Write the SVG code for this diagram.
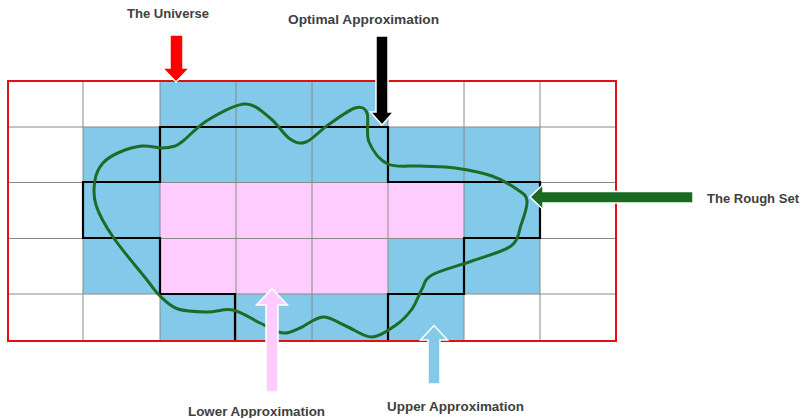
<svg xmlns="http://www.w3.org/2000/svg" width="800" height="418" viewBox="0 0 800 418">
<style>
.b{fill:#83C9EA}
.p{fill:#FFCCFF}
.g line{stroke:#8a8a8a;stroke-width:1}
.lbl{font-family:"Liberation Sans",Arial,sans-serif;font-weight:bold;font-size:13px;fill:#404040;text-anchor:middle}
.arr{stroke:#ffffff;stroke-width:1.5;stroke-linejoin:miter}
</style>
<rect width="800" height="418" fill="#ffffff"/>
<g id="cells">
<rect class="b" x="160" y="81" width="228" height="46"/>
<rect class="b" x="83" y="127" width="457" height="55"/>
<rect class="b" x="83" y="182" width="77" height="112"/>
<rect class="p" x="160" y="182" width="304" height="56"/>
<rect class="b" x="464" y="182" width="76" height="56"/>
<rect class="p" x="160" y="238" width="228" height="56"/>
<rect class="b" x="388" y="238" width="152" height="56"/>
<rect class="b" x="160" y="294" width="304" height="47"/>
</g>
<g id="grid" class="g">
<line x1="83" y1="81" x2="83" y2="341"/>
<line x1="160" y1="81" x2="160" y2="341"/>
<line x1="236" y1="81" x2="236" y2="341"/>
<line x1="312" y1="81" x2="312" y2="341"/>
<line x1="388" y1="81" x2="388" y2="341"/>
<line x1="464" y1="81" x2="464" y2="341"/>
<line x1="540" y1="81" x2="540" y2="341"/>
<line x1="8" y1="127" x2="616" y2="127"/>
<line x1="8" y1="182.5" x2="616" y2="182.5"/>
<line x1="8" y1="238.5" x2="616" y2="238.5"/>
<line x1="8" y1="294" x2="616" y2="294"/>
</g>
<g id="optimal-boundary">
<polygon points="160,127 388,127 388,182 540,182 540,238 464,238 464,294 388,294 388,341 235,341 235,294 160,294 160,238 83,238 83,182 160,182" fill="none" stroke="#000000" stroke-width="2.2" stroke-linejoin="miter"/>
</g>
<g id="universe">
<rect x="8" y="81" width="608" height="260" fill="none" stroke="#E01010" stroke-width="2"/>
</g>
<g id="rough-set">
<path d="M183,141 C188.5,136.7 197.7,126.2 208,120 S234.7,104.3 245,104 S262.5,112.2 270,118 S284,135 290,139 S299.7,144.3 306,142 S319.8,130.7 328,125 S348.5,110 355,108 S364.7,107.3 367,113 S365.5,133.5 369,142 S379.5,160 388,164 S408.8,165.3 420,166 S443,166.3 455,168 S481.5,172.3 492,176 S512.2,185.8 518,190 S526.5,195.2 527,201 S523.7,217.5 521,225 S519.2,240 511,246 S485.2,256.2 472,261 S440.3,270.3 432,275 S425.3,283.3 422,289 S416.3,303 412,309 S402.7,320.3 396,325 S380.3,336.8 372,337 S354.2,329.3 346,326 S330.7,316.7 323,317 S306.7,325.3 300,328 S289.7,333.8 283,333 S268.3,326.8 260,323 S241.8,311.8 233,310 S216.2,312.2 207,312 S185.8,311.7 178,309 S165.2,300.8 160,296 S154.8,289.8 147,280 S121.5,249.5 113,237 S99,214.5 96,205 S93.8,187 95,180 S98.8,167.7 103,163 S113.5,154.8 120,152 S135,146.7 142,146 S156.5,148 162,148 S171.5,147.2 175,146 S177.5,145.3 183,141 Z" fill="none" stroke="#1E6B28" stroke-width="3"/>
</g>
<g id="connectors">
<polygon class="arr" fill="#FF0000" points="170,35 183,35 183,68 189.5,68 176,82 162.5,68 170,68"/>
<polygon class="arr" fill="#000000" points="376,36 388,36 388,112 393.5,112 382,125 370.5,112 376,112"/>
<polygon class="arr" fill="#1B6A24" points="693,191.5 543,191.5 543,184.5 530,197 543,209.5 543,203 693,203"/>
<polygon class="arr" fill="#FFCCFF" points="266,392 278,392 278,305 287.5,305 272,288.5 256.5,305 266,305"/>
<polygon class="arr" fill="#83C9EA" points="428,384 440,384 440,340 447.5,340 434,325.5 420.5,340 428,340"/>
</g>
<g id="label-universe"><text class="lbl" x="168" y="18" textLength="82" lengthAdjust="spacingAndGlyphs">The Universe</text></g>
<g id="label-optimal"><text class="lbl" x="363.5" y="24" textLength="151" lengthAdjust="spacingAndGlyphs">Optimal Approximation</text></g>
<g id="label-rough"><text class="lbl" x="753" y="203" textLength="92" lengthAdjust="spacingAndGlyphs">The Rough Set</text></g>
<g id="label-lower"><text class="lbl" x="256.5" y="416" textLength="137" lengthAdjust="spacingAndGlyphs">Lower Approximation</text></g>
<g id="label-upper"><text class="lbl" x="455.5" y="411" textLength="137" lengthAdjust="spacingAndGlyphs">Upper Approximation</text></g>
</svg>
